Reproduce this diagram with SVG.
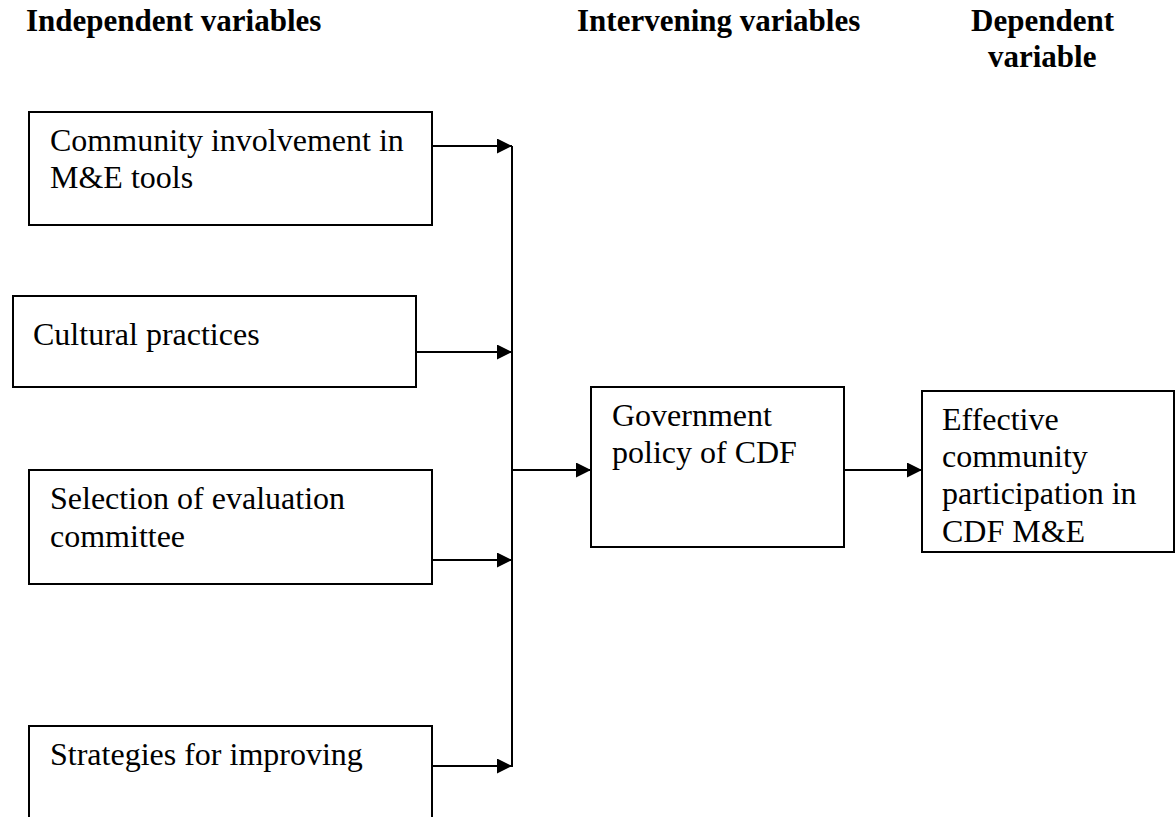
<svg xmlns="http://www.w3.org/2000/svg" width="1175" height="817" viewBox="0 0 1175 817">
<style>
.box{fill:#fff;stroke:#000;stroke-width:2}
.t{font-family:"Liberation Serif","Times New Roman",serif;font-size:32px;fill:#000}
.h{font-family:"Liberation Serif","Times New Roman",serif;font-size:31px;font-weight:bold;fill:#000}
.ln{fill:none;stroke:#000;stroke-width:2}
</style>
<defs>
<marker id="ah" markerWidth="15" markerHeight="15" refX="15" refY="7.5" orient="auto" markerUnits="userSpaceOnUse">
<path d="M0,0 L15,7.5 L0,15 Z" fill="#000"/>
</marker>
</defs>
<rect width="1175" height="817" fill="#fff"/>
<g id="headings">
<text class="h" x="26" y="31">Independent variables</text>
<text class="h" x="577" y="31">Intervening variables</text>
<text class="h" x="971" y="31">Dependent</text>
<text class="h" x="988" y="67">variable</text>
</g>
<g id="connectors">
<line class="ln" x1="432" y1="146" x2="512" y2="146" marker-end="url(#ah)"/>
<line class="ln" x1="416" y1="352" x2="512" y2="352" marker-end="url(#ah)"/>
<line class="ln" x1="432" y1="560" x2="512" y2="560" marker-end="url(#ah)"/>
<line class="ln" x1="432" y1="766" x2="512" y2="766" marker-end="url(#ah)"/>
<line class="ln" x1="512" y1="146" x2="512" y2="767"/>
<line class="ln" x1="512" y1="470" x2="591" y2="470" marker-end="url(#ah)"/>
<line class="ln" x1="844" y1="470" x2="922" y2="470" marker-end="url(#ah)"/>
</g>
<g id="node1">
<rect class="box" x="29" y="112" width="403" height="113"/>
<text class="t" x="50" y="151">Community involvement in</text>
<text class="t" x="50" y="188">M&amp;E tools</text>
</g>
<g id="node2">
<rect class="box" x="13" y="296" width="403" height="91"/>
<text class="t" x="33" y="345">Cultural practices</text>
</g>
<g id="node3">
<rect class="box" x="29" y="470" width="403" height="114"/>
<text class="t" x="50" y="509">Selection of evaluation</text>
<text class="t" x="50" y="547">committee</text>
</g>
<g id="node4">
<rect class="box" x="29" y="726" width="403" height="120"/>
<text class="t" x="50" y="765">Strategies for improving</text>
</g>
<g id="node5">
<rect class="box" x="591" y="387" width="253" height="160"/>
<text class="t" x="612" y="426">Government</text>
<text class="t" x="612" y="463">policy of CDF</text>
</g>
<g id="node6">
<rect class="box" x="922" y="391" width="252" height="161"/>
<text class="t" x="942" y="430">Effective</text>
<text class="t" x="942" y="467">community</text>
<text class="t" x="942" y="504">participation in</text>
<text class="t" x="942" y="542">CDF M&amp;E</text>
</g>
</svg>
